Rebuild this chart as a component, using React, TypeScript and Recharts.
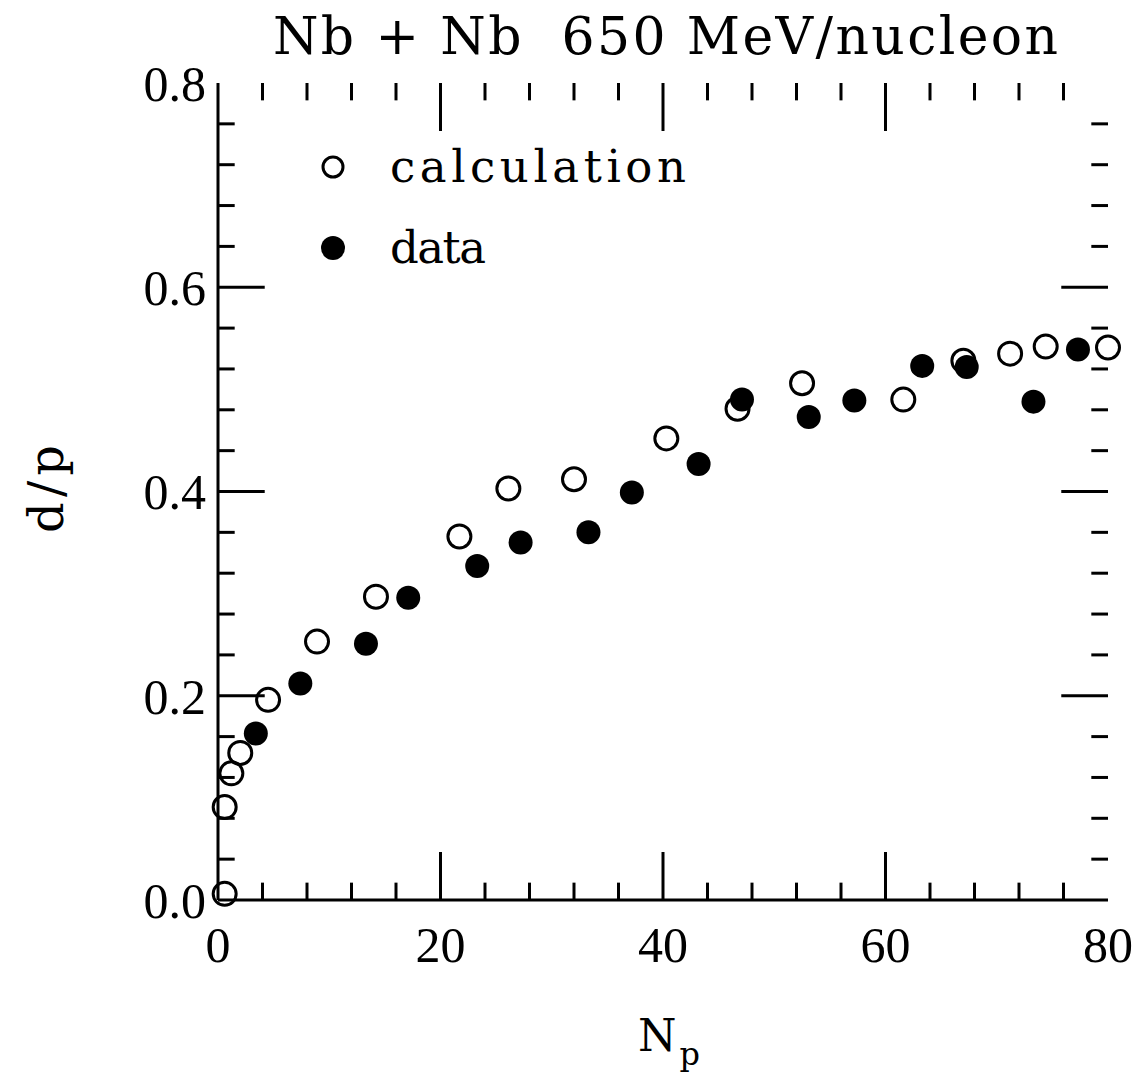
import React from 'react';
import {
    ScatterChart,
    Scatter,
    XAxis,
    YAxis,
    ReferenceLine,
    Legend
} from 'recharts';

// values
const calcNp = [0.6, 0.6, 1.2, 2.0, 4.5, 8.9, 14.2, 21.7, 26.1, 32.0, 40.3, 46.7, 52.5, 61.6, 67.0, 71.2, 74.4, 80.0];
const calcDp = [0.006, 0.091, 0.124, 0.144, 0.196, 0.253, 0.297, 0.356, 0.403, 0.412, 0.452, 0.481, 0.506, 0.490, 0.528, 0.535, 0.542, 0.541];

const dataNp = [3.4, 7.4, 13.3, 17.1, 23.3, 27.2, 33.3, 37.2, 43.2, 47.1, 53.1, 57.2, 63.3, 67.3, 73.3, 77.3];
const dataDp = [0.163, 0.212, 0.251, 0.296, 0.327, 0.350, 0.360, 0.399, 0.427, 0.490, 0.473, 0.489, 0.523, 0.522, 0.488, 0.539];

const xTicks = [0, 20, 40, 60, 80];
const yTicks = [0, 0.2, 0.4, 0.6, 0.8];
const xInnerMajor = [20, 40, 60];
const xInnerMinor = [4, 8, 12, 16, 24, 28, 32, 36, 44, 48, 52, 56, 64, 68, 72, 76];
const yInnerMajor = [0.2, 0.4, 0.6];
const yInnerMinor = [0.04, 0.08, 0.12, 0.16, 0.24, 0.28, 0.32, 0.36, 0.44, 0.48, 0.52, 0.56, 0.64, 0.68, 0.72, 0.76];

const seriesNames = ['calculation', 'data'];
const legendWidths = [296, 96];

const W = 1139;
const H = 1074;
const slab = '"DejaVu Serif", serif';
const serif = '"Liberation Serif", serif';

const calcPoints = calcNp.map((x, i) => ({ x, y: calcDp[i] }));
const dataPoints = dataNp.map((x, i) => ({ x, y: dataDp[i] }));

const OpenDot = (props: any) => (
    <circle cx={props.cx} cy={props.cy} r={11.5} fill="none" stroke="#000" strokeWidth={3} />
);
const FilledDot = (props: any) => (
    <circle cx={props.cx} cy={props.cy} r={12} fill="#000" />
);

// legend drawn as svg so the text spacing can follow the typewriter look
const LegendBox = () => (
    <svg width={420} height={160}>
        {seriesNames.map((name, i) => (
            <g key={name} transform={`translate(0 ${i * 81})`}>
                {i === 0
                    ? <circle cx={15} cy={41} r={10} fill="none" stroke="#000" strokeWidth={3} />
                    : <circle cx={15} cy={41} r={12} fill="#000" />}
                <text x={72} y={56} fontFamily={slab} fontSize={45} fill="#000"
                    textLength={legendWidths[i]} lengthAdjust="spacing">
                    {name}
                </text>
            </g>
        ))}
    </svg>
);

const tickStroke = { stroke: '#000', strokeWidth: 3 };

export default function App() {
    return (
        <div style={{ position: 'absolute', left: 0, top: 0, width: W, height: H, background: '#fff' }}>
            <ScatterChart
                width={W}
                height={H}
                margin={{ top: 83, right: 31, bottom: 0, left: 0 }}
            >
                <XAxis
                    type="number"
                    dataKey="x"
                    domain={[0, 80]}
                    ticks={xTicks}
                    height={174}
                    axisLine={{ stroke: '#000', strokeWidth: 3 }}
                    tickLine={false}
                    tickMargin={20}
                    tick={{ fill: '#000', fontSize: 50, fontFamily: serif }}
                />
                <XAxis
                    xAxisId="top"
                    orientation="top"
                    type="number"
                    domain={[0, 80]}
                    height={0}
                    tick={false}
                    tickLine={false}
                    axisLine={{ stroke: '#000', strokeWidth: 3 }}
                />
                <YAxis
                    type="number"
                    dataKey="y"
                    domain={[0, 0.8]}
                    ticks={yTicks}
                    width={218}
                    axisLine={{ stroke: '#000', strokeWidth: 3 }}
                    tickLine={false}
                    tickMargin={6}
                    tickFormatter={(v: number) => v.toFixed(1)}
                    tick={{ fill: '#000', fontSize: 50, fontFamily: serif }}
                />
                <YAxis
                    yAxisId="right"
                    orientation="right"
                    type="number"
                    domain={[0, 0.8]}
                    width={0}
                    tick={false}
                    tickLine={false}
                    axisLine={{ stroke: '#000', strokeWidth: 3 }}
                />

                {/* inward ticks on all four sides */}
                {xInnerMajor.map(v => (
                    <ReferenceLine key={'xb' + v} segment={[{ x: v, y: 0 }, { x: v, y: 0.047 }]} {...tickStroke} />
                ))}
                {xInnerMajor.map(v => (
                    <ReferenceLine key={'xt' + v} segment={[{ x: v, y: 0.8 }, { x: v, y: 0.753 }]} {...tickStroke} />
                ))}
                {xInnerMinor.map(v => (
                    <ReferenceLine key={'xbm' + v} segment={[{ x: v, y: 0 }, { x: v, y: 0.017 }]} {...tickStroke} />
                ))}
                {xInnerMinor.map(v => (
                    <ReferenceLine key={'xtm' + v} segment={[{ x: v, y: 0.8 }, { x: v, y: 0.783 }]} {...tickStroke} />
                ))}
                {yInnerMajor.map(v => (
                    <ReferenceLine key={'yl' + v} segment={[{ x: 0, y: v }, { x: 4.2, y: v }]} {...tickStroke} />
                ))}
                {yInnerMajor.map(v => (
                    <ReferenceLine key={'yr' + v} segment={[{ x: 80, y: v }, { x: 75.8, y: v }]} {...tickStroke} />
                ))}
                {yInnerMinor.map(v => (
                    <ReferenceLine key={'ylm' + v} segment={[{ x: 0, y: v }, { x: 1.5, y: v }]} {...tickStroke} />
                ))}
                {yInnerMinor.map(v => (
                    <ReferenceLine key={'yrm' + v} segment={[{ x: 80, y: v }, { x: 78.5, y: v }]} {...tickStroke} />
                ))}

                <Legend
                    layout="vertical"
                    align="center"
                    verticalAlign="middle"
                    content={<LegendBox />}
                    wrapperStyle={{ left: 318, top: 126, width: 420 }}
                />

                <Scatter name={seriesNames[0]} data={calcPoints} shape={OpenDot} isAnimationActive={false} />
                <Scatter name={seriesNames[1]} data={dataPoints} shape={FilledDot} isAnimationActive={false} />
            </ScatterChart>

            {/* title and axis titles */}
            <svg width={W} height={H} style={{ position: 'absolute', left: 0, top: 0, pointerEvents: 'none' }}>
                <text x={273} y={54} fontFamily={slab} fontSize={52} fill="#000"
                    textLength={785} lengthAdjust="spacing" xmlSpace="preserve">
                    Nb + Nb  650 MeV/nucleon
                </text>
                <text
                    x={0}
                    y={0}
                    transform="translate(63 489) rotate(-90)"
                    textAnchor="middle"
                    fontFamily={slab}
                    fontSize={48}
                    fill="#000"
                    textLength={88}
                    lengthAdjust="spacing"
                >
                    d/p
                </text>
                <text x={638} y={1051} fontFamily={slab} fontSize={44} fill="#000">
                    N
                    <tspan fontSize={32} dx={3} dy={14}>p</tspan>
                </text>
            </svg>
        </div>
    );
}
